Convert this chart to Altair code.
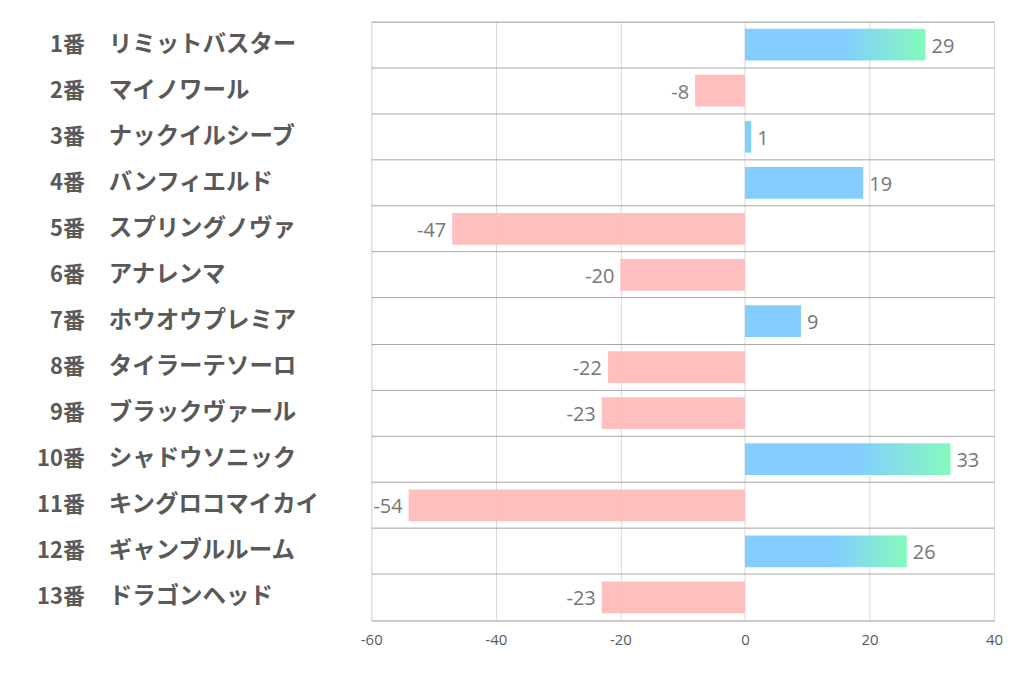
import altair as alt
import pandas as pd

nums = ["1番", "2番", "3番", "4番", "5番", "6番", "7番", "8番", "9番", "10番", "11番", "12番", "13番"]
names = ["リミットバスター", "マイノワール", "ナックイルシーブ", "バンフィエルド", "スプリングノヴァ",
         "アナレンマ", "ホウオウプレミア", "タイラーテソーロ", "ブラックヴァール", "シャドウソニック",
         "キングロコマイカイ", "ギャンブルルーム", "ドラゴンヘッド"]
values = [29, -8, 1, 19, -47, -20, 9, -22, -23, 33, -54, 26, -23]
ticks = [-60, -40, -20, 0, 20, 40]

df = pd.DataFrame({"num": nums, "name": names, "value": values})
df["key"] = df["num"]
df["label"] = [str(v) for v in values]

BLUE = "#7dcbff"
GREEN = "#7dfab8"
PINK = "#ffbcbc"
JP = "Noto Sans CJK JP"

yenc = alt.Y("key:N", sort=nums,
             scale=alt.Scale(paddingInner=0, paddingOuter=0),
             axis=alt.Axis(labels=False, ticks=False, domain=False, grid=True,
                           bandPosition=0, gridColor="#a6a6a6", gridWidth=1, title=None))
xenc = alt.X("value:Q", scale=alt.Scale(domain=[-60, 40], nice=False),
             axis=alt.Axis(values=ticks, ticks=False, grid=True, labelFlush=False,
                           gridColor="#d9d9d9", domainColor="#a6a6a6", labelColor="#595959",
                           labelFontSize=15, labelFont="Open Sans", labelPadding=12, title=None,
                           labelExpr="datum.value + ''"))

base = alt.Chart(df)

grad = alt.Gradient(gradient="linear",
                    stops=[alt.GradientStop(offset=0, color=BLUE),
                           alt.GradientStop(offset=0.55, color=BLUE),
                           alt.GradientStop(offset=1, color=GREEN)],
                    x1=0, x2=1, y1=0, y2=0)

bars_neg = base.transform_filter("datum.value < 0").mark_bar(
    color=PINK, height=alt.RelativeBandSize(0.69), opacity=0.95).encode(x=xenc, x2=alt.datum(0), y=yenc)
bars_pos = base.transform_filter("datum.value >= 0 && datum.value < 20").mark_bar(
    color=BLUE, height=alt.RelativeBandSize(0.69), opacity=0.95).encode(x=xenc, x2=alt.datum(0), y=yenc)
bars_grad = base.transform_filter("datum.value >= 20").mark_bar(
    color=grad, height=alt.RelativeBandSize(0.69), opacity=0.95).encode(x=xenc, x2=alt.datum(0), y=yenc)

lab_pos = base.transform_filter("datum.value >= 0").mark_text(
    align="left", dx=6, dy=2, baseline="middle", fontSize=20, font="Open Sans", color="#767676").encode(
    x="value:Q", y=alt.Y("key:N", sort=nums), text="label:N")
lab_neg = base.transform_filter("datum.value < 0").mark_text(
    align="right", dx=-6, dy=2, baseline="middle", fontSize=20, font="Open Sans", color="#767676").encode(
    x="value:Q", y=alt.Y("key:N", sort=nums), text="label:N")

num_txt = base.mark_text(align="right", baseline="middle", fontSize=22, font=JP, fontWeight="bold",
                         color="#595959").encode(x=alt.value(-287), y=alt.Y("key:N", sort=nums), text="num:N")
name_txt = base.mark_text(align="left", baseline="middle", fontSize=23.5, font=JP, fontWeight="bold",
                          color="#595959").encode(x=alt.value(-263), y=alt.Y("key:N", sort=nums), text="name:N")

chart = alt.layer(bars_neg, bars_pos, bars_grad, lab_pos, lab_neg, num_txt, name_txt).properties(
    width=624, height=600,
    autosize=alt.AutoSizeParams(type="none"),
    padding={"left": 364, "top": 13, "right": 20, "bottom": 50},
).configure_view(stroke=None).configure(background="white")

chart.save("out.html", embed_options={"renderer": "svg", "actions": False})
